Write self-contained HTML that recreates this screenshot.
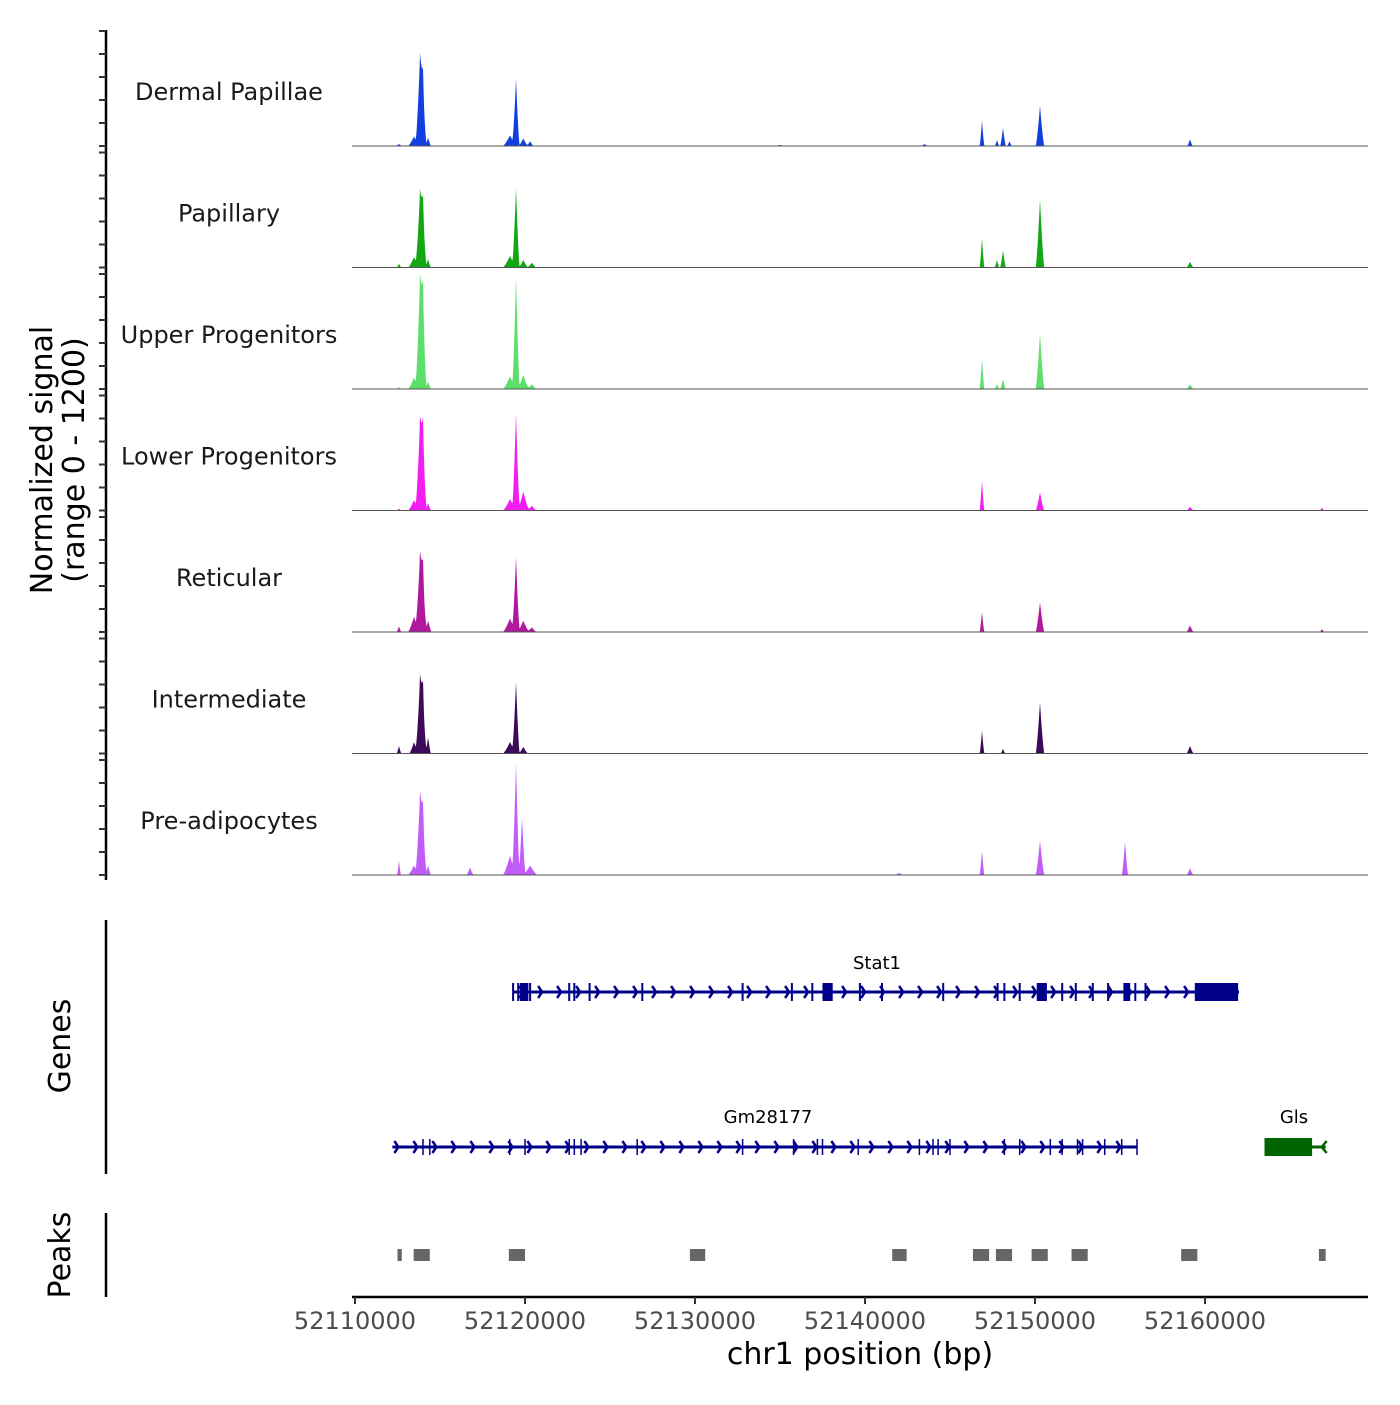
<!DOCTYPE html>
<html><head><meta charset="utf-8"><style>
body{margin:0;background:#fff}
svg text{font-family:"DejaVu Sans","Liberation Sans",sans-serif}
</style></head><body>
<svg id="chart" width="1400" height="1400" viewBox="0 0 1400 1400" xmlns="http://www.w3.org/2000/svg">
<rect width="1400" height="1400" fill="#fff"/>
<g id="tracks"></g>
<g id="genes"></g>
<g id="peaks"></g>
<g id="axes"></g>
</svg>
<script>
const NS='http://www.w3.org/2000/svg';
const trackNames=['Dermal Papillae','Papillary','Upper Progenitors','Lower Progenitors','Reticular','Intermediate','Pre-adipocytes'];
const trackColors=['#1240e0','#13a813','#5ddf6c','#f21df0','#b0189f','#3d0a5a','#c15cfa'];
const yMax=1200;
// peaks per track: [position bp, signal value, half-width bp]
const peaksDP=[[52112588,20,150],[52113471,100,250],[52113824,920,180],[52114000,620,150],[52114300,90,120],[52119118,110,300],[52119471,690,150],[52119900,80,200],[52120300,50,150],[52146882,270,100],[52147765,60,100],[52148118,190,120],[52148500,50,100],[52150294,420,180],[52159118,70,120],[52135000,10,300],[52143500,20,150]];
const peaksPap=[[52112588,40,100],[52113471,110,250],[52113824,770,180],[52114000,600,150],[52114300,90,120],[52119118,120,300],[52119471,820,150],[52119900,80,200],[52120400,50,200],[52146882,310,100],[52147765,80,100],[52148118,180,120],[52150294,710,180],[52159118,60,150]];
const peaksUp=[[52112588,20,100],[52113471,120,250],[52113824,1140,180],[52114000,900,150],[52114300,80,120],[52119118,130,300],[52119471,1160,150],[52119900,150,250],[52120400,50,200],[52146882,310,100],[52147765,50,100],[52148118,100,120],[52150294,580,180],[52159118,50,150]];
const peaksLow=[[52112588,20,100],[52113471,110,250],[52113824,930,180],[52114000,780,150],[52114300,80,120],[52119118,120,300],[52119471,1010,150],[52119900,200,250],[52120400,50,200],[52146882,310,100],[52150294,190,180],[52159118,40,150],[52166882,30,100]];
const peaksRet=[[52112588,60,100],[52113471,160,250],[52113824,800,180],[52114000,600,150],[52114300,120,150],[52119118,140,300],[52119471,770,150],[52119900,120,250],[52120400,50,200],[52146882,210,100],[52150294,310,180],[52159118,70,150],[52166882,30,100]];
const peaksInt=[[52112588,80,100],[52113471,120,200],[52113824,780,180],[52114000,600,150],[52114300,170,120],[52119118,120,300],[52119471,740,150],[52119900,70,200],[52146882,240,100],[52148118,50,100],[52150294,530,180],[52159118,80,150]];
const peaksPre=[[52112588,150,80],[52113471,100,250],[52113824,830,180],[52114000,600,150],[52114300,100,120],[52116765,80,150],[52119118,200,300],[52119471,1150,150],[52119824,600,140],[52120300,100,300],[52146882,250,100],[52150294,360,180],[52155294,350,130],[52159118,70,150],[52142000,20,200]];
const allPeaks=[peaksDP,peaksPap,peaksUp,peaksLow,peaksRet,peaksInt,peaksPre];
const xTicks=[52110000,52120000,52130000,52140000,52150000,52160000];
const peakRegions=[[52112500,52112750],[52113450,52114400],[52119050,52120000],[52129700,52130600],[52141600,52142450],[52146350,52147300],[52147700,52148650],[52149800,52150750],[52152150,52153100],[52158600,52159550],[52166700,52167100]];
const stat1=[52119300,52162000];
const stat1Exons=[52119300,52119600,52119800,52120300,52122600,52122900,52123800,52126900,52132800,52135700,52136900,52137800,52139700,52141000,52144600,52147800,52148200,52149100,52150400,52151600,52152400,52153400,52154300,52155500,52155900,52156500];
const stat1Blocks=[[52119700,52120200],[52137500,52138100],[52150100,52150700],[52155200,52155600],[52159400,52161950]];
const gm=[52112200,52156000];
const gmExons=[52114000,52114400,52119100,52120000,52122600,52122900,52123300,52126600,52132800,52135800,52137200,52137500,52139600,52143200,52144000,52144300,52145000,52148200,52149100,52150900,52151600,52152500,52152800,52154100,52155100,52156000];
const gls=[52163500,52167100];
const glsBlock=[52163500,52166300];

const X=bp=>355+(bp-52110000)*0.017;
const trackTop=i=>31+i*121.5;
const trackBase=i=>146+i*121.5;
function el(tag,attrs,parent,text){const e=document.createElementNS(NS,tag);for(const k in attrs)e.setAttribute(k,attrs[k]);if(text!==undefined)e.textContent=text;parent.appendChild(e);return e;}
const tracks=document.getElementById('tracks');
allPeaks.forEach((pk,i)=>{
  const base=trackBase(i),top=trackTop(i),h=base-top;
  let d='M352,'+base;
  for(let x=352;x<=1368;x+=0.5){
    const bp=52110000+(x-355)/0.017;
    let v=0;
    pk.forEach(p=>{const w=p[2]*1.4;const t=1-Math.abs(bp-p[0])/w;if(t>0)v+=p[1]*Math.pow(t,1.3);});
    v=Math.min(v,yMax);
    d+=' L'+x+','+(base-v/yMax*h).toFixed(2);
  }
  d+=' L1368,'+base+' Z';
  const a=el('path',{d:d,fill:trackColors[i]},tracks);
  
  
  const bl=el('line',{x1:352,x2:1368,y1:base,y2:base,stroke:'#555','stroke-width':1},tracks);
  
  
  const lb=el('text',{x:229,y:top+69,'text-anchor':'middle','font-size':24,fill:'#1a1a1a'},tracks,trackNames[i]);
  
  
});
const genes=document.getElementById('genes');
function chevrons(x1,x2,y,col,sz){for(let x=x1+10;x<x2-6;x+=19){const c=el('polyline',{points:(x-4)+','+(y-sz)+' '+x+','+y+' '+(x-4)+','+(y+sz),fill:'none',stroke:col,'stroke-width':2.5},genes);}}
// Stat1
{const y=992,col='#00008b';
 const l=el('line',{x1:X(stat1[0]),x2:X(stat1[1]),y1:y,y2:y,stroke:col,'stroke-width':3},genes);
 chevrons(X(stat1[0]),X(stat1[1]),y,col,6);
 stat1Exons.forEach(b=>{const e=el('line',{x1:X(b),x2:X(b),y1:y-9,y2:y+9,stroke:col,'stroke-width':2},genes);});
 stat1Blocks.forEach(b=>{const e=el('rect',{x:X(b[0]),y:y-9,width:X(b[1])-X(b[0]),height:18,fill:col},genes);});
 const t=el('text',{x:877,y:969,'text-anchor':'middle','font-size':18,fill:'#000'},genes,'Stat1');}
// Gm28177
{const y=1147,col='#00008b';
 const l=el('line',{x1:X(gm[0]),x2:X(gm[1]),y1:y,y2:y,stroke:col,'stroke-width':3},genes);
 chevrons(X(gm[0])-4,X(gm[1]),y,col,6);
 gmExons.forEach(b=>{const e=el('line',{x1:X(b),x2:X(b),y1:y-8,y2:y+8,stroke:col,'stroke-width':1.5},genes);});
 const t=el('text',{x:768,y:1123,'text-anchor':'middle','font-size':18,fill:'#000'},genes,'Gm28177');}
// Gls
{const y=1147,col='#006400';
 const l=el('line',{x1:X(gls[0]),x2:X(gls[1]),y1:y,y2:y,stroke:col,'stroke-width':3},genes);
 const r=el('rect',{x:X(glsBlock[0]),y:y-9,width:X(glsBlock[1])-X(glsBlock[0]),height:18,fill:col},genes);
 const c=el('polyline',{points:(X(gls[1])+1)+','+(y-6)+' '+(X(gls[1])-4)+','+y+' '+(X(gls[1])+1)+','+(y+6),fill:'none',stroke:col,'stroke-width':2.5},genes);
 const t=el('text',{x:1294,y:1123,'text-anchor':'middle','font-size':18,fill:'#000'},genes,'Gls');}
const peaks=document.getElementById('peaks');
peakRegions.forEach(p=>{const r=el('rect',{x:X(p[0]),y:1249,width:Math.max(4,X(p[1])-X(p[0])),height:12,fill:'#666'},peaks);});
const axes=document.getElementById('axes');
{const a=el('line',{x1:106,x2:106,y1:30,y2:880,stroke:'#000','stroke-width':2.5},axes);
 for(let i=0;i<7;i++){for(let k=0;k<=5;k++){const y=trackBase(i)-k*23;const t=el('line',{x1:99,x2:106,y1:y,y2:y,stroke:'#333','stroke-width':2},axes);}}
 const g=el('line',{x1:106,x2:106,y1:920,y2:1174,stroke:'#000','stroke-width':2.5},axes);
 const p=el('line',{x1:106,x2:106,y1:1213,y2:1297,stroke:'#000','stroke-width':2.5},axes);
 const t1=el('text',{transform:'translate(52,460) rotate(-90)','text-anchor':'middle','font-size':30,fill:'#000'},axes,'Normalized signal');
 const t2=el('text',{transform:'translate(84,460) rotate(-90)','text-anchor':'middle','font-size':30,fill:'#000'},axes,'(range 0 - 1200)');
 const t3=el('text',{transform:'translate(70,1046) rotate(-90)','text-anchor':'middle','font-size':30,fill:'#000'},axes,'Genes');
 const t4=el('text',{transform:'translate(70,1255) rotate(-90)','text-anchor':'middle','font-size':30,fill:'#000'},axes,'Peaks');}
{const a=el('line',{x1:352,x2:1368,y1:1297,y2:1297,stroke:'#000','stroke-width':2.5},axes);
 xTicks.forEach(v=>{const x=X(v);const t=el('line',{x1:x,x2:x,y1:1297,y2:1304,stroke:'#333','stroke-width':2},axes);
  const l=el('text',{x:x,y:1329,'text-anchor':'middle','font-size':24,fill:'#4d4d4d'},axes,String(v));});
 const t=el('text',{x:860,y:1364,'text-anchor':'middle','font-size':30,fill:'#000'},axes,'chr1 position (bp)');}
</script>
</body></html>
